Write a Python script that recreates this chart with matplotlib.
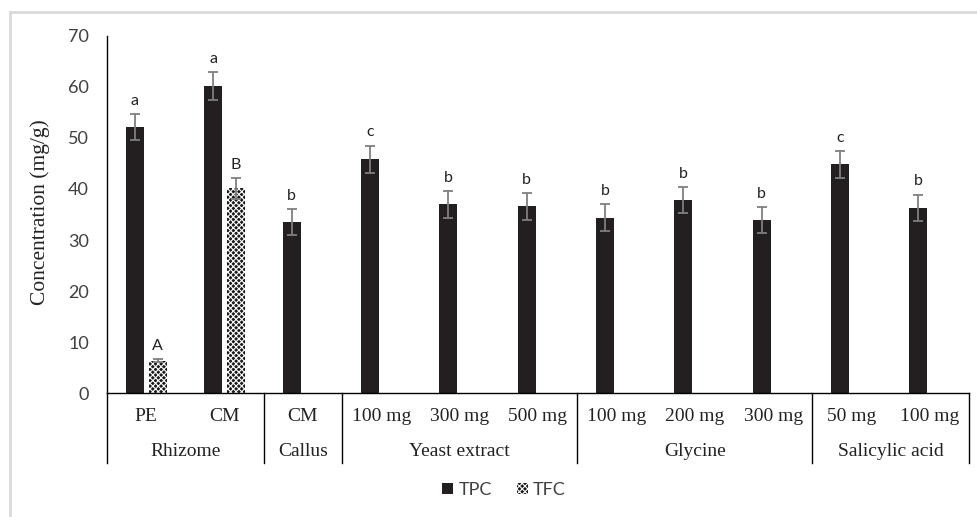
import numpy as np
import matplotlib.pyplot as plt
import matplotlib as mpl
from matplotlib.lines import Line2D
from matplotlib.patches import Patch
import matplotlib.transforms as mtrans

mpl.rcParams['hatch.linewidth'] = 0.8

#======================================== data ============================================
sub_labels = ["PE", "CM", "CM", "100 mg", "300 mg", "500 mg",
              "100 mg", "200 mg", "300 mg", "50 mg", "100 mg"]
groups = ["Rhizome", "Callus", "Yeast extract", "Glycine", "Salicylic acid"]
group_sizes = [2, 1, 3, 3, 2]

tpc = [52.1, 60.2, 33.5, 45.8, 37.0, 36.6, 34.4, 37.8, 33.9, 44.8, 36.3]
tpc_err = [2.6, 2.7, 2.6, 2.7, 2.6, 2.6, 2.7, 2.6, 2.6, 2.6, 2.6]
tpc_letters = ["a", "a", "b", "c", "b", "b", "b", "b", "b", "c", "b"]

tfc_idx = [0, 1]
tfc = [6.4, 40.1]
tfc_err = [0.3, 2.1]
tfc_letters = ["A", "B"]

#======================================== plot ============================================
serif = "Liberation Serif"
sans = "Lato"
tick_col = "#404040"
bar_col = "#231f20"
err_col = "#7f7f7f"
txt_col = "#222222"

fig = plt.figure(figsize=(9.77, 5.17), dpi=100)
ax = fig.add_axes([107/977, 1-393.3/517, 862/977, (393.3-35.7)/517])

x = np.arange(len(sub_labels))
off, w = 0.145, 0.23
ax.bar(x - off, tpc, w, color=bar_col, zorder=2)
ax.errorbar(x - off, tpc, yerr=tpc_err, fmt='none', ecolor=err_col,
            elinewidth=1.3, capsize=3.8, capthick=1.3, zorder=3)
xt = x[tfc_idx] + off
# checker fill: dark bar with fine light cross hatch
ax.bar(xt, tfc, w, facecolor='#1a1a1a', edgecolor='white', hatch='xxxxxx',
       linewidth=0, zorder=2)
ax.errorbar(xt, tfc, yerr=tfc_err, fmt='none', ecolor=err_col,
            elinewidth=1.3, capsize=3.8, capthick=1.3, zorder=3)

for xi, v, e, l in zip(x - off, tpc, tpc_err, tpc_letters):
    ax.annotate(l, (xi, v + e), xytext=(0, 9.5), textcoords='offset points',
                ha='center', va='center', fontsize=11.5, family=sans, color=txt_col)
for xi, v, e, l in zip(xt, tfc, tfc_err, tfc_letters):
    ax.annotate(l, (xi, v + e), xytext=(0, 9.5), textcoords='offset points',
                ha='center', va='center', fontsize=11.5, family=sans, color=txt_col)

ax.set_xlim(-0.5, len(sub_labels) - 0.5)
ax.set_ylim(0, 70)
ax.set_yticks(range(0, 71, 10))
ax.tick_params(axis='y', length=0, pad=13, labelsize=13, labelcolor=tick_col)
for t in ax.get_yticklabels():
    t.set_family(sans)
ax.set_xticks([])
for s in ['top', 'right']:
    ax.spines[s].set_visible(False)
ax.spines['left'].set_linewidth(1.0)
ax.spines['bottom'].set_linewidth(1.0)

# multi level category axis
trans = mtrans.blended_transform_factory(ax.transData, ax.transAxes)
h = ax.get_position().height * 517
y_sub = -(416.7 - 393.3) / h
y_grp = -(451.7 - 393.3) / h
y_end = -(463 - 393.3) / h
for xi, l in zip(x, sub_labels):
    ax.text(xi, y_sub, l, transform=trans, ha='center', va='center',
            fontsize=14, family=serif, color=txt_col)
edges = np.concatenate([[0], np.cumsum(group_sizes)]) - 0.5
for i, g in enumerate(groups):
    ax.text((edges[i] + edges[i+1]) / 2, y_grp, g, transform=trans, ha='center',
            va='center', fontsize=14, family=serif, color=txt_col)
for e in edges:
    ax.add_line(Line2D([e, e], [0, y_end], transform=trans, color='black',
                       lw=1.0, clip_on=False))

fig.text(40/977, 1-212/517, "Concentration (mg/g)", rotation=90, ha='center',
         va='center', fontsize=15.5, family=serif, color=txt_col)

handles = [Patch(facecolor=bar_col, label='TPC'),
           Patch(facecolor='#1a1a1a', edgecolor='white', hatch='xxxxxx', lw=0, label='TFC')]
fig.legend(handles=handles, loc='center', bbox_to_anchor=(504/977, 1-490/517),
           ncol=2, frameon=False, prop={'family': sans, 'size': 13},
           handlelength=0.6, handleheight=0.6, handletextpad=0.3, columnspacing=1.4,
           labelcolor=tick_col)

# chart area border (top and left visible)
fig.add_artist(Line2D([10/977, 1], [1-12/517, 1-12/517], transform=fig.transFigure,
                      color='#d9d9d9', lw=2))
fig.add_artist(Line2D([10/977, 10/977], [0, 1-12/517], transform=fig.transFigure,
                      color='#d9d9d9', lw=2))

fig.savefig("out.png", dpi=100)
